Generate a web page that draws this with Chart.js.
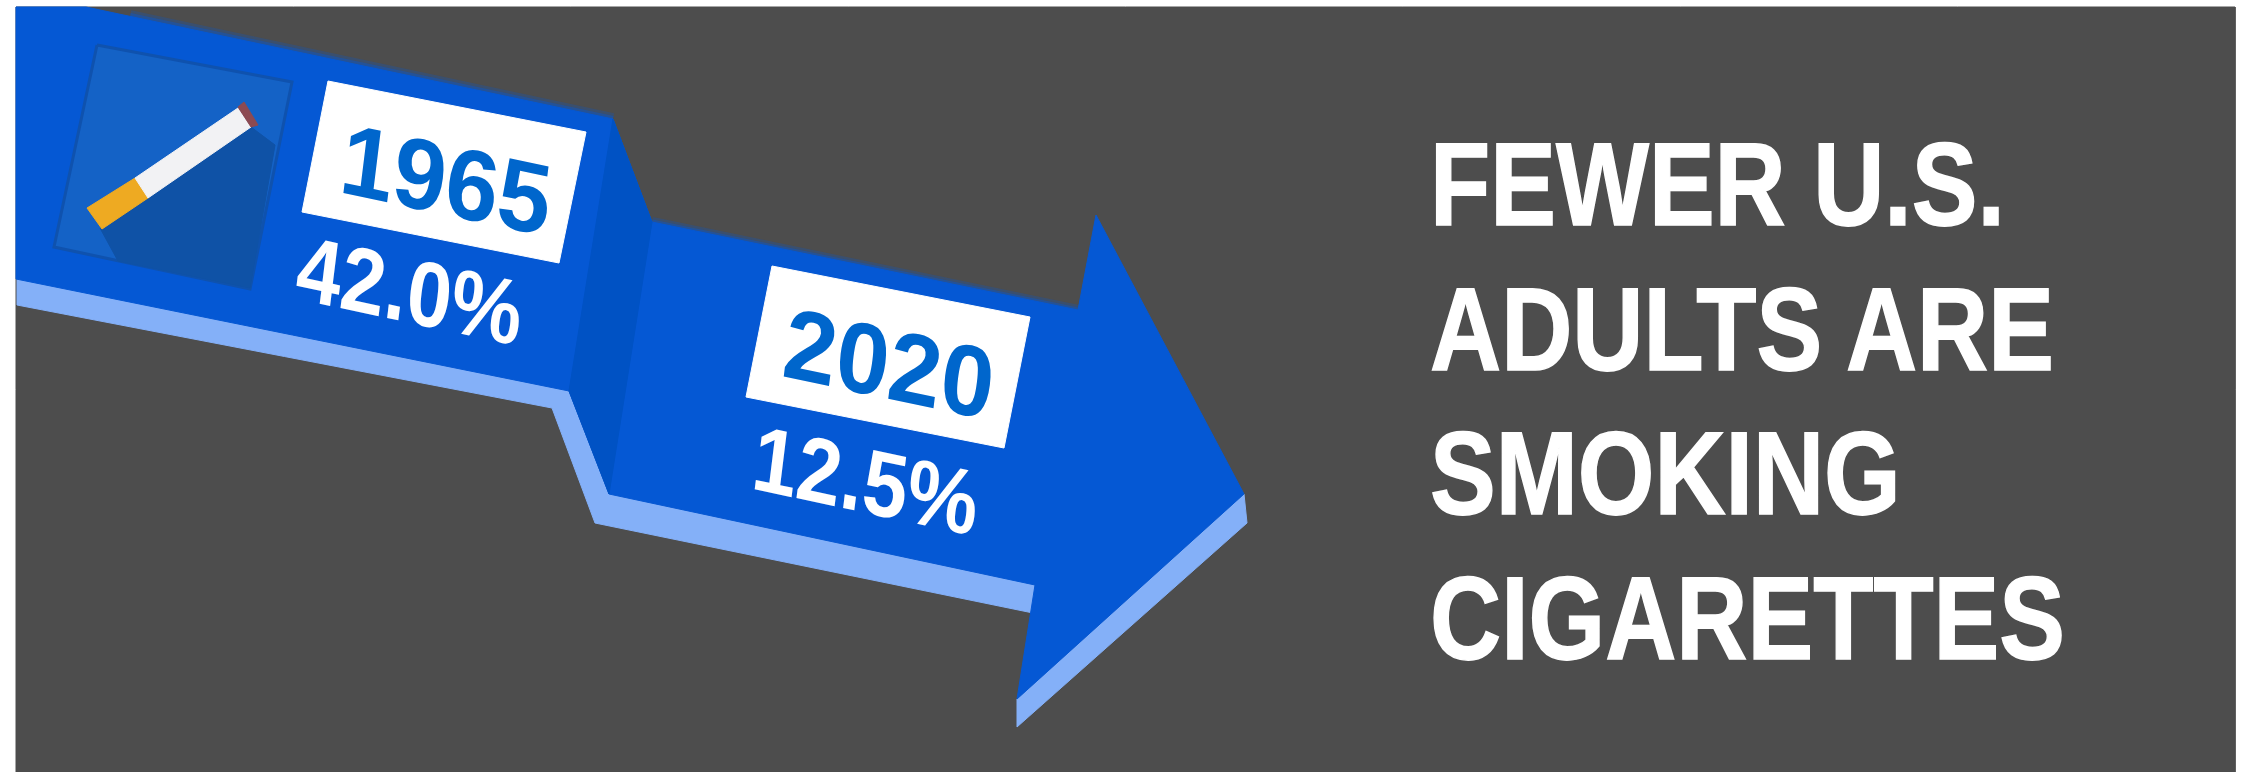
<!DOCTYPE html>
<html>
<head>
<meta charset="utf-8">
<title>Fewer U.S. adults are smoking cigarettes</title>
<script src="https://cdn.jsdelivr.net/npm/chart.js@4"></script>
<style>
  html, body { margin: 0; padding: 0; background: #fff; }
  canvas { display: block; }
</style>
</head>
<body>
<canvas id="mycanvas" width="2247" height="772"></canvas>
<script>
// smoking rate per year
var years = ['1965', '2020'];
var rates = [42.0, 12.5];
var headline = ['FEWER U.S.', 'ADULTS ARE', 'SMOKING', 'CIGARETTES'];

// outlines, in the units of the two hidden axes
var panelX = [16, 2235, 2235, 16];
var panelY = [7, 7, 772, 772];

var sideX = [17, 569, 609, 1035, 1033, 595, 552, 17];
var sideY = [279, 391, 494, 585, 613, 523, 408, 305];
var headSideX = [1017, 1244, 1247, 1017];
var headSideY = [699, 494, 523, 727];
var arrowX = [16, 86, 613, 652, 1078, 1096, 1244, 1017, 1035, 609, 569, 16];
var arrowY = [7, 7, 119, 222, 310, 215, 494, 699, 585, 494, 391, 279];
var stepX = [613, 652, 609, 569];
var stepY = [119, 222, 494, 391];

var iconX = [97, 292, 250, 54];
var iconY = [45, 82, 289, 247];
var shadowX = [251, 275, 250, 118, 100];
var shadowY = [127, 145, 288, 261, 228];
var filterX = [87, 135, 148, 102];
var filterY = [208, 178, 198, 229];
var paperX = [135, 238, 251, 148];
var paperY = [178, 108, 127, 198];
var emberX = [238, 244, 258, 251];
var emberY = [107, 102, 125, 127];

var boxX = [[328, 586, 559, 302], [772, 1030, 1004, 746]];
var boxY = [[81, 132, 263, 212], [266, 317, 448, 397]];

// soft upper edges of the two arrow sections
var edgeX = [[130, 613], [652, 1078]];
var edgeY = [[16, 119], [222, 310]];

// baseline centres of the year and rate labels
var yearAnchorX = [442, 885];
var yearAnchorY = [214, 398];
var rateAnchorX = [406, 862];
var rateAnchorY = [322, 512];
var headlineBaseY = [225, 370, 514, 659];

function shape(label, xs, ys, color, border) {
  var pts = [];
  for (var i in xs) {
    pts.push({x: xs[i], y: ys[i]});
  }
  pts.push({x: xs[0], y: ys[0]});
  return {
    label: label,
    data: pts,
    showLine: true,
    fill: 'shape',
    backgroundColor: color,
    borderColor: border || color,
    borderWidth: border ? 3 : 1,
    pointRadius: 0,
    tension: 0,
    clip: false
  };
}

function edge(label, xs, ys, color, width) {
  return {
    label: label,
    data: [{x: xs[0], y: ys[0]}, {x: xs[1], y: ys[1]}],
    showLine: true,
    fill: false,
    borderColor: color,
    borderWidth: width,
    pointRadius: 0,
    tension: 0,
    clip: false
  };
}

var shapes = [
  shape('panel', panelX, panelY, '#4d4d4d'),
  shape('side', sideX, sideY, '#84b0f8'),
  shape('head side', headSideX, headSideY, '#84b0f8'),
  edge('edge a wide', edgeX[0], edgeY[0], 'rgba(5,88,212,0.25)', 12),
  edge('edge b wide', edgeX[1], edgeY[1], 'rgba(5,88,212,0.25)', 10),
  edge('edge a', edgeX[0], edgeY[0], 'rgba(5,88,212,0.4)', 6),
  edge('edge b', edgeX[1], edgeY[1], 'rgba(5,88,212,0.4)', 5),
  shape('arrow', arrowX, arrowY, '#0558d4'),
  shape('step', stepX, stepY, '#0052c4'),
  shape('icon', iconX, iconY, '#1462c6', '#0f52ae'),
  shape('shadow', shadowX, shadowY, '#0f52a6'),
  shape('filter', filterX, filterY, '#eeaa22'),
  shape('paper', paperX, paperY, '#f2f2f4'),
  shape('ember', emberX, emberY, '#8c4a52'),
  shape('box 1965', boxX[0], boxY[0], '#ffffff'),
  shape('box 2020', boxX[1], boxY[1], '#ffffff')
];
// later entries paint on top
shapes.forEach(function(s, i) { s.order = shapes.length - i; });

var textPlugin = {
  id: 'textPlugin',
  afterDatasetsDraw: function(chart) {
    var ctx = chart.ctx;
    var sx = chart.scales.x;
    var sy = chart.scales.y;
    var slope = 12 * Math.PI / 180;
    var lean = 7 * Math.PI / 180;

    ctx.textRendering = 'geometricPrecision';

    // baseline runs downhill, stems lean less than the baseline
    function tilted(text, x, y, size, squeeze, color) {
      ctx.save();
      ctx.transform(
        Math.cos(slope) * squeeze, Math.sin(slope) * squeeze,
        -Math.sin(lean), Math.cos(lean),
        sx.getPixelForValue(x), sy.getPixelForValue(y)
      );
      ctx.font = 'bold ' + size + 'px "Liberation Sans", Arial, sans-serif';
      ctx.fillStyle = color;
      ctx.textAlign = 'center';
      ctx.textBaseline = 'alphabetic';
      ctx.fillText(text, 0, 0);
      ctx.restore();
    }

    for (var i in years) {
      tilted(years[i], yearAnchorX[i], yearAnchorY[i], 100, 0.96, '#0066cc');
      tilted(rates[i].toFixed(1) + '%', rateAnchorX[i], rateAnchorY[i], 92, 0.88, '#ffffff');
    }

    // condensed headline, thickened with a thin stroke
    for (var j in headline) {
      ctx.save();
      ctx.translate(sx.getPixelForValue(1430), sy.getPixelForValue(headlineBaseY[j]));
      ctx.scale(0.835, 1);
      ctx.font = 'bold 118px "Liberation Sans", Arial, sans-serif';
      ctx.fillStyle = '#ffffff';
      ctx.strokeStyle = '#ffffff';
      ctx.lineWidth = 1.5;
      ctx.textAlign = 'left';
      ctx.textBaseline = 'alphabetic';
      ctx.fillText(headline[j], 0, 0);
      ctx.strokeText(headline[j], 0, 0);
      ctx.restore();
    }
  }
};

var ctx = document.getElementById('mycanvas');
var infographic = new Chart(ctx, {
  type: 'scatter',
  data: { datasets: shapes },
  plugins: [textPlugin],
  options: {
    responsive: false,
    animation: false,
    layout: { padding: 0 },
    plugins: { legend: { display: false }, tooltip: { enabled: false } },
    scales: {
      x: { type: 'linear', min: 0, max: 2247, display: false },
      y: { type: 'linear', min: 0, max: 772, reverse: true, display: false }
    }
  }
});
</script>
</body>
</html>
